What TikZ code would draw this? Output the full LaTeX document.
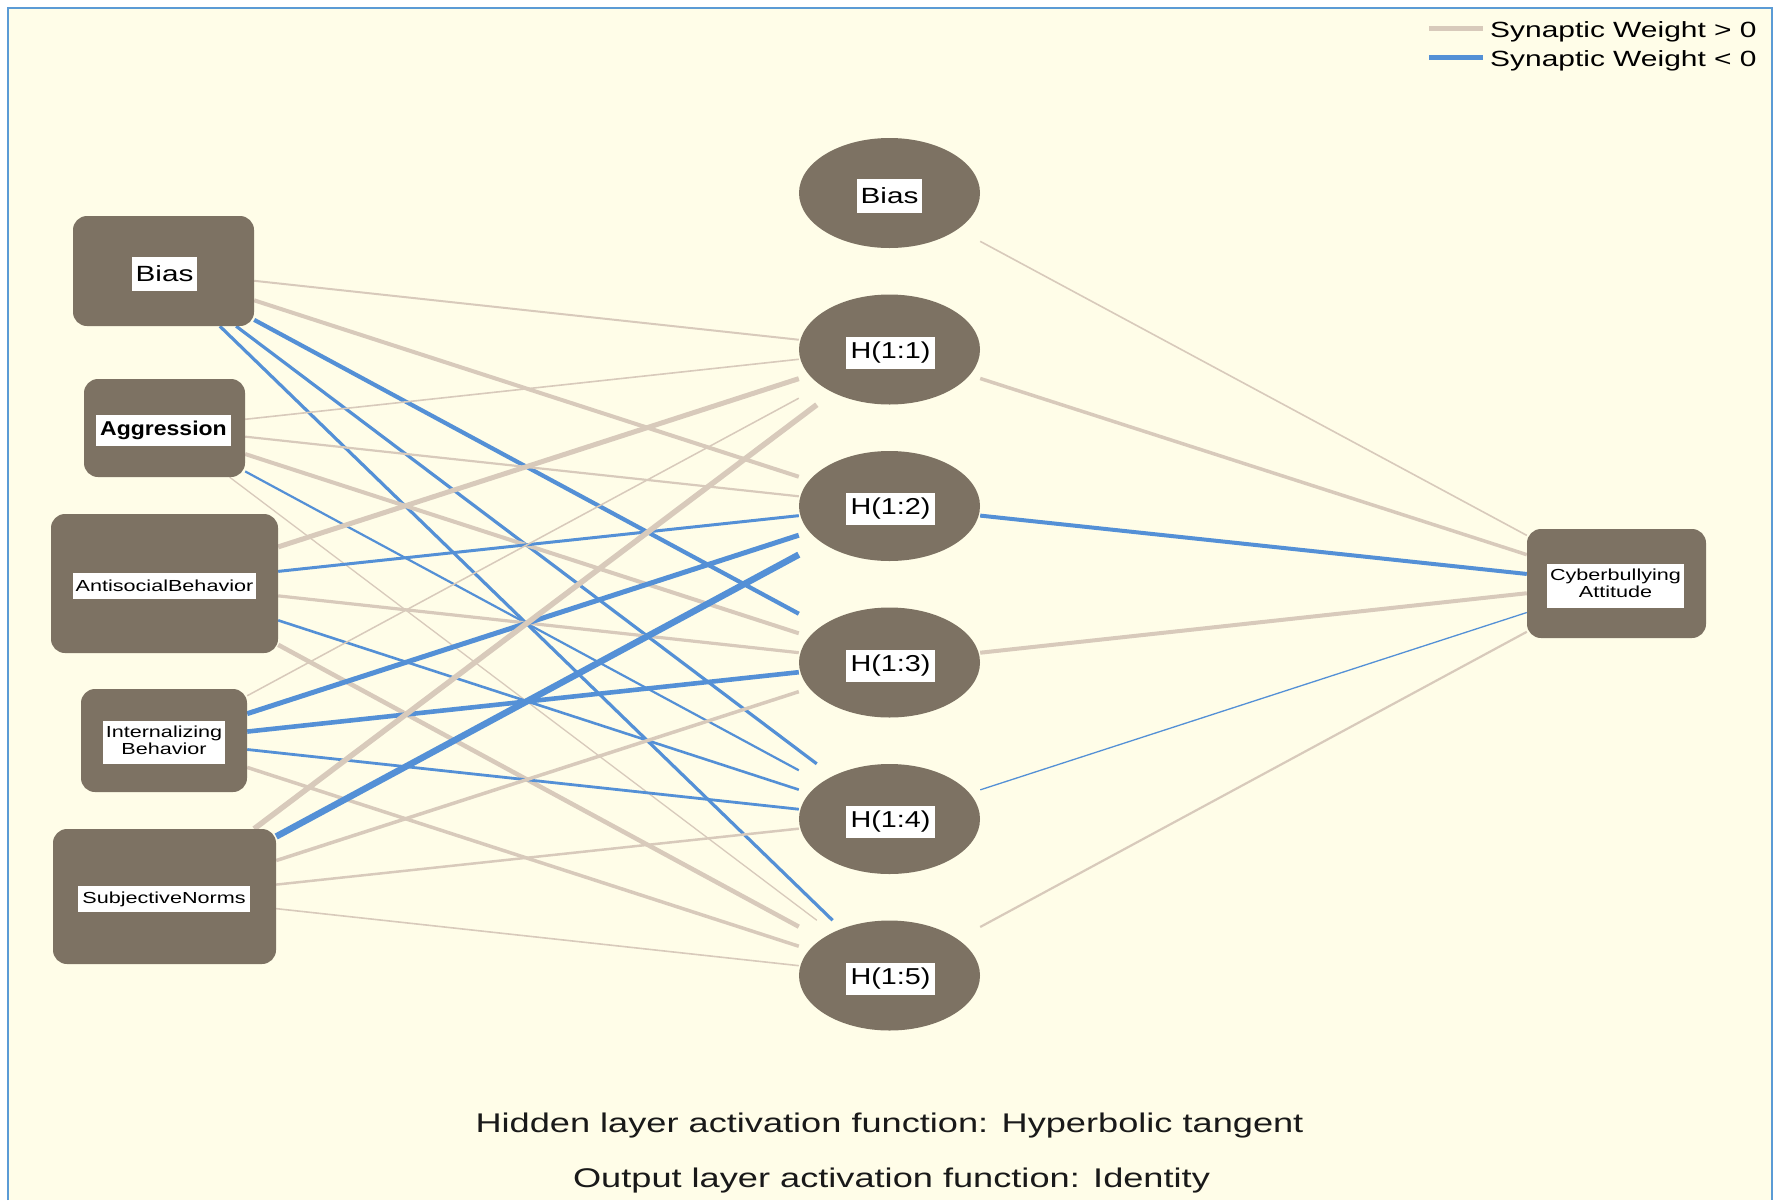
\documentclass[tikz,border=0pt]{standalone}
\usepackage{fontspec}
\usepackage{graphicx}
\setmainfont{Liberation Sans}
\usetikzlibrary{backgrounds}

\definecolor{paper}{HTML}{FFFDE8}
\definecolor{framecol}{HTML}{5B9BD5}
\definecolor{nodebrown}{HTML}{7D7263}
\definecolor{postan}{HTML}{D8CABB}
\definecolor{negblue}{HTML}{5490D6}

% text set at a given size and widened horizontally
\newcommand{\wtxt}[3]{{\fontsize{#1}{#1}\selectfont\scalebox{#2}[1]{#3}}}
% two-line caption for small boxes
\newcommand{\twoline}[2]{{\fontsize{16}{17}\selectfont\scalebox{1.35}[1]{\begin{tabular}{@{}c@{}}#1\\#2\end{tabular}}}}

\begin{document}
\begin{tikzpicture}[x=1pt,y=-1pt,
  inbox/.style={rectangle, rounded corners=14pt, fill=nodebrown, inner sep=0pt},
  hidnode/.style={rectangle, minimum width=181pt, minimum height=110pt, inner sep=0pt,
    path picture={\fill[nodebrown] (path picture bounding box.center)
      ellipse [x radius=90.5pt, y radius=55pt];}},
  tag/.style={fill=white, inner sep=0pt, text=black, align=center},
  wpos/.style={draw=postan},
  wneg/.style={draw=negblue}
]
\useasboundingbox (0,0) rectangle (1778,1200);

% ---- input layer ----
\node[inbox, minimum width=181pt, minimum height=110pt] (ib) at (163.5,271) {};
\node[inbox, minimum width=161pt, minimum height=98pt]  (ag) at (164.5,428) {};
\node[inbox, minimum width=227pt, minimum height=139pt] (an) at (164.5,583.5) {};
\node[inbox, minimum width=166pt, minimum height=103pt] (in) at (164,740.5) {};
\node[inbox, minimum width=223pt, minimum height=135pt] (sn) at (164.5,896.5) {};

\node[tag, minimum width=65pt, minimum height=34pt] (ibt) at (164.5,274) {\wtxt{22}{1.35}{Bias}};
\node[tag, minimum width=135pt, minimum height=31pt] (agt) at (163.5,430.5) {\wtxt{20}{1.15}{\bfseries Aggression}};
\node[tag, minimum width=183pt, minimum height=26pt] (ant) at (164.5,586) {\wtxt{16}{1.35}{AntisocialBehavior}};
\node[tag, minimum width=122pt, minimum height=43pt] (int) at (164,742.5) {\twoline{Internalizing}{Behavior}};
\node[tag, minimum width=172pt, minimum height=26pt] (snt) at (164,899) {\wtxt{16}{1.35}{SubjectiveNorms}};

% ---- hidden layer ----
\node[hidnode] (hb) at (889.5,193) {};
\node[hidnode] (h1) at (889.5,349.5) {};
\node[hidnode] (h2) at (889.5,506) {};
\node[hidnode] (h3) at (889.5,662.5) {};
\node[hidnode] (h4) at (889.5,819) {};
\node[hidnode] (h5) at (889.5,975.5) {};

\node[tag, minimum width=65pt, minimum height=34pt] (hbt) at (889.5,196) {\wtxt{22}{1.35}{Bias}};
\node[tag, minimum width=89pt, minimum height=32pt] (h1t) at (890.5,352.5) {\wtxt{23}{1.25}{H(1:1)}};
\node[tag, minimum width=89pt, minimum height=32pt] (h2t) at (890.5,509) {\wtxt{23}{1.25}{H(1:2)}};
\node[tag, minimum width=89pt, minimum height=32pt] (h3t) at (890.5,665.5) {\wtxt{23}{1.25}{H(1:3)}};
\node[tag, minimum width=89pt, minimum height=32pt] (h4t) at (890.5,822) {\wtxt{23}{1.25}{H(1:4)}};
\node[tag, minimum width=89pt, minimum height=32pt] (h5t) at (890.5,978.5) {\wtxt{23}{1.25}{H(1:5)}};

% ---- output layer ----
\node[inbox, minimum width=179pt, minimum height=109pt] (out) at (1616.5,583.5) {};
\node[tag, minimum width=137pt, minimum height=44pt] (outt) at (1615.5,586) {\twoline{Cyberbullying}{Attitude}};

% ---- legend ----
\coordinate (l1a) at (1429,28);
\coordinate (l1b) at (1483,28);
\coordinate (l2a) at (1429,57);
\coordinate (l2b) at (1483,57);
\draw[wpos, line width=5pt] (l1a) -- (l1b);
\draw[wneg, line width=5pt] (l2a) -- (l2b);
\node[anchor=base west, inner sep=0pt] (l1t) at (1490,37) {\wtxt{22}{1.36}{Synaptic Weight > 0}};
\node[anchor=base west, inner sep=0pt] (l2t) at (1490,66) {\wtxt{22}{1.36}{Synaptic Weight < 0}};

% ---- notes ----
\node[anchor=base, inner sep=0pt, text=black!90] (note1) at (889.5,1132)
  {\wtxt{27}{1.34}{Hidden layer activation function: Hyperbolic tangent}};
\node[anchor=base, inner sep=0pt, text=black!90] (note2) at (891.5,1187)
  {\wtxt{27}{1.34}{Output layer activation function: Identity}};

\begin{pgfonlayer}{background}
  % page and frame
  \fill[white] (0,0) rectangle (1778,1200);
  \fill[paper] (8,8) rectangle (1772,1200);
  \draw[framecol, line width=2.3pt] (8,1200) -- (8,8) -- (1772,8) -- (1772,1200);

  % input -> hidden weights
  \draw[wpos, line width=2pt]   (ib) -- (h1);
  \draw[wpos, line width=4pt]   (ib) -- (h2);
  \draw[wneg, line width=4.2pt] (ib) -- (h3);
  \draw[wneg, line width=3.2pt] (ib) -- (h4);
  \draw[wneg, line width=3.2pt] (ib) -- (h5);

  \draw[wpos, line width=1.6pt] (ag) -- (h1);
  \draw[wpos, line width=2.2pt] (ag) -- (h2);
  \draw[wpos, line width=4pt]   (ag) -- (h3);
  \draw[wneg, line width=2.2pt] (ag) -- (h4);
  \draw[wpos, line width=1.3pt] (ag) -- (h5);

  \draw[wpos, line width=5pt]   (an) -- (h1);
  \draw[wneg, line width=3pt]   (an) -- (h2);
  \draw[wpos, line width=3.2pt] (an) -- (h3);
  \draw[wneg, line width=2.6pt] (an) -- (h4);
  \draw[wpos, line width=4.5pt] (an) -- (h5);

  \draw[wpos, line width=1.5pt] (in) -- (h1);
  \draw[wneg, line width=5pt]   (in) -- (h2);
  \draw[wneg, line width=4.6pt] (in) -- (h3);
  \draw[wneg, line width=2.8pt] (in) -- (h4);
  \draw[wpos, line width=3.5pt] (in) -- (h5);

  \draw[wpos, line width=5.5pt] (sn) -- (h1);
  \draw[wneg, line width=6.5pt] (sn) -- (h2);
  \draw[wpos, line width=3.5pt] (sn) -- (h3);
  \draw[wpos, line width=2.5pt] (sn) -- (h4);
  \draw[wpos, line width=1.6pt] (sn) -- (h5);

  % hidden -> output weights
  \draw[wpos, line width=1.6pt] (hb) -- (out);
  \draw[wpos, line width=3.5pt] (h1) -- (out);
  \draw[wneg, line width=4pt]   (h2) -- (out);
  \draw[wpos, line width=4pt]   (h3) -- (out);
  \draw[wneg, line width=1.3pt] (h4) -- (out);
  \draw[wpos, line width=2.2pt] (h5) -- (out);
\end{pgfonlayer}
\end{tikzpicture}
\end{document}
